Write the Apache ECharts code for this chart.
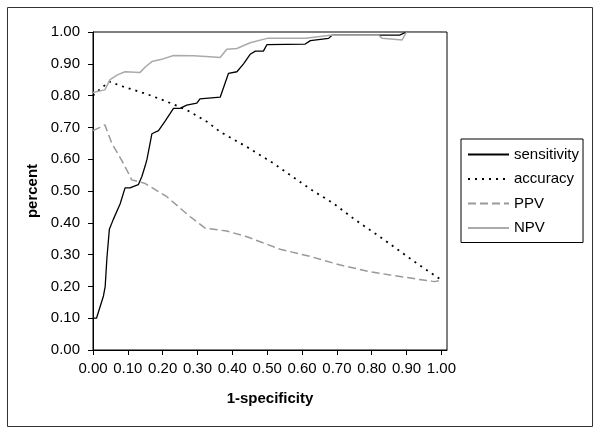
<!DOCTYPE html>
<html><head><meta charset="utf-8">
<script src="https://cdn.jsdelivr.net/npm/echarts@6/dist/echarts.min.js"></script>
<style>html,body{margin:0;padding:0;background:#fff}#c{width:600px;height:435px}</style>
</head><body><div id="c"></div>
<script>
// tick labels
const xTicks = [0, 0.1, 0.2, 0.3, 0.4, 0.5, 0.6, 0.7, 0.8, 0.9, 1.0];
const yTicks = [0, 0.1, 0.2, 0.3, 0.4, 0.5, 0.6, 0.7, 0.8, 0.9, 1.0];
const seriesNames = ['sensitivity', 'accuracy', 'PPV', 'NPV'];

// sensitivity
const sensX = [0, 0.01, 0.03, 0.035, 0.04, 0.047, 0.058, 0.078, 0.092, 0.106, 0.13, 0.14, 0.15, 0.155, 0.169, 0.188, 0.207, 0.231, 0.25, 0.269, 0.298, 0.307, 0.365, 0.389, 0.413, 0.432, 0.451, 0.466, 0.489, 0.499, 0.609, 0.624, 0.676, 0.686, 0.786, 0.88, 0.9, 1.0];
const sensY = [0.10, 0.10, 0.17, 0.20, 0.29, 0.38, 0.41, 0.46, 0.51, 0.51, 0.52, 0.545, 0.58, 0.60, 0.68, 0.69, 0.72, 0.76, 0.76, 0.77, 0.776, 0.79, 0.795, 0.87, 0.875, 0.90, 0.93, 0.94, 0.94, 0.96, 0.962, 0.973, 0.98, 0.99, 0.99, 0.99, 1.0, 1.0];
// accuracy
const accX = [0, 0.02, 0.047, 0.087, 0.154, 0.212, 0.269, 0.327, 0.365, 0.441, 0.518, 0.566, 0.628, 0.69, 0.753, 0.83, 0.93, 1.0];
const accY = [0.80, 0.82, 0.844, 0.828, 0.805, 0.781, 0.755, 0.718, 0.686, 0.639, 0.587, 0.55, 0.503, 0.461, 0.409, 0.351, 0.272, 0.22];
// PPV
const ppvX = [0, 0.02, 0.034, 0.054, 0.082, 0.097, 0.111, 0.149, 0.212, 0.279, 0.322, 0.384, 0.442, 0.537, 0.624, 0.71, 0.796, 0.853, 0.935, 0.98, 1.0];
const ppvY = [0.69, 0.70, 0.708, 0.65, 0.597, 0.566, 0.535, 0.524, 0.482, 0.419, 0.383, 0.374, 0.356, 0.317, 0.294, 0.267, 0.246, 0.236, 0.222, 0.215, 0.22];
// NPV
const npvX = [0, 0.034, 0.049, 0.07, 0.092, 0.135, 0.15, 0.169, 0.197, 0.231, 0.288, 0.336, 0.365, 0.384, 0.413, 0.451, 0.5, 0.61, 0.681, 0.82, 0.83, 0.887, 0.9, 1.0];
const npvY = [0.81, 0.818, 0.85, 0.865, 0.875, 0.873, 0.89, 0.907, 0.914, 0.926, 0.925, 0.922, 0.92, 0.946, 0.948, 0.966, 0.98, 0.98, 0.99, 0.99, 0.98, 0.975, 1.0, 1.0];

const pairs = (xs, ys) => xs.map((x, i) => [x, ys[i]]);
const FONT = 'Liberation Sans';

const chart = echarts.init(document.getElementById('c'), null, {renderer: 'canvas'});
chart.setOption({
  animation: false,
  backgroundColor: '#fff',
  textStyle: {fontFamily: FONT},
  grid: {left: 93, top: 32, right: 153, bottom: 85, show: true, borderColor: '#000', borderWidth: 1},
  graphic: [{type: 'rect', shape: {x: 7.5, y: 7.5, width: 585, height: 419}, style: {fill: 'none', stroke: '#333', lineWidth: 1}, silent: true}],
  legend: {
    orient: 'vertical', left: 461, top: 139,
    padding: [8, 4, 7, 6],
    borderColor: '#000', borderWidth: 1,
    itemWidth: 41, itemHeight: 14, itemGap: 9.5,
    itemStyle: {opacity: 0},
    textStyle: {fontFamily: FONT, fontSize: 15, color: '#000', lineHeight: 15},
    data: seriesNames
  },
  xAxis: {
    type: 'value', min: 0, max: 1.016,
    name: '1-specificity', nameLocation: 'middle', nameGap: 41,
    nameTextStyle: {fontFamily: FONT, fontSize: 15, fontWeight: 'bold', color: '#000'},
    axisLine: {lineStyle: {color: '#000', width: 1}},
    axisTick: {show: true, length: 5, lineStyle: {color: '#000'}, customValues: xTicks},
    axisLabel: {customValues: xTicks, formatter: v => v.toFixed(2), fontFamily: FONT, fontSize: 15, color: '#000', margin: 11},
    splitLine: {show: false}
  },
  yAxis: {
    type: 'value', min: 0, max: 1, interval: 0.1,
    name: 'percent', nameLocation: 'middle', nameGap: 53, nameRotate: 90,
    nameTextStyle: {fontFamily: FONT, fontSize: 15, fontWeight: 'bold', color: '#000'},
    axisLine: {show: true, lineStyle: {color: '#000', width: 1}},
    axisTick: {show: true, length: 5, lineStyle: {color: '#000'}},
    axisLabel: {formatter: v => v.toFixed(2), fontFamily: FONT, fontSize: 15, color: '#000', margin: 13},
    splitLine: {show: false}
  },
  series: [
    {name: 'sensitivity', type: 'line', data: pairs(sensX, sensY), showSymbol: false, symbol: 'none',
      lineStyle: {color: '#000', width: 1.3}, itemStyle: {color: '#000'}},
    {name: 'accuracy', type: 'line', data: pairs(accX, accY), showSymbol: false, symbol: 'none',
      lineStyle: {color: '#000', width: 1.8, type: [2, 5]}, itemStyle: {color: '#000'}},
    {name: 'PPV', type: 'line', data: pairs(ppvX, ppvY), showSymbol: false, symbol: 'none',
      lineStyle: {color: '#999', width: 1.5, type: [8, 4]}, itemStyle: {color: '#999'}},
    {name: 'NPV', type: 'line', data: pairs(npvX, npvY), showSymbol: false, symbol: 'none',
      lineStyle: {color: '#aaa', width: 1.5}, itemStyle: {color: '#aaa'}}
  ]
});
</script>
</body></html>
